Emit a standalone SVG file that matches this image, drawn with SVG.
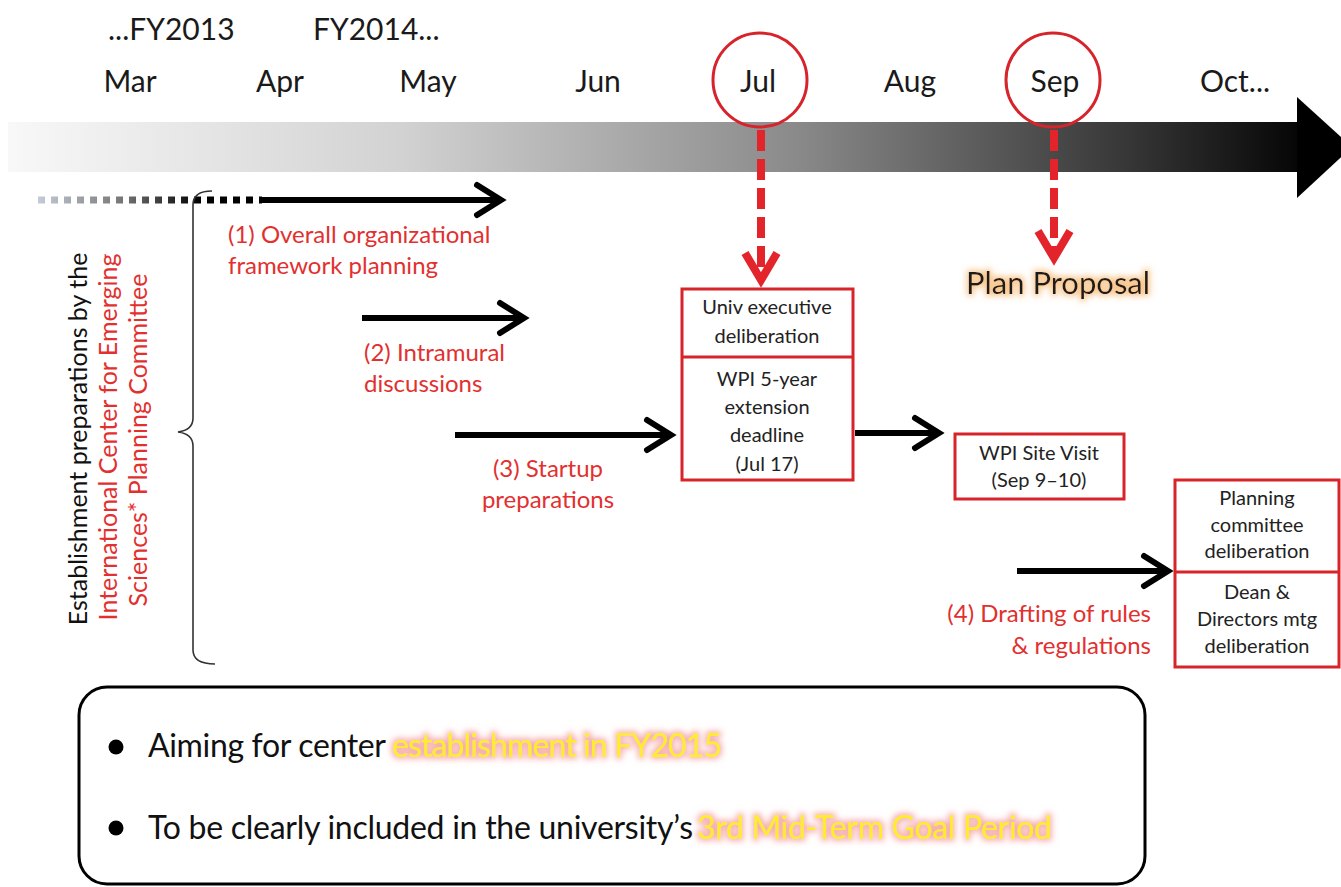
<svg xmlns="http://www.w3.org/2000/svg" width="1341" height="887" viewBox="0 0 1341 887">
<defs>
<linearGradient id="tl" x1="8" y1="0" x2="1320" y2="0" gradientUnits="userSpaceOnUse">
<stop offset="0" stop-color="#f8f8f8"/>
<stop offset="0.3" stop-color="#d2d2d2"/>
<stop offset="0.6" stop-color="#8a8a8a"/>
<stop offset="0.85" stop-color="#383838"/>
<stop offset="1" stop-color="#000"/>
</linearGradient>
<linearGradient id="dotg" x1="38" y1="0" x2="200" y2="0" gradientUnits="userSpaceOnUse">
<stop offset="0" stop-color="#c4cad8"/>
<stop offset="0.5" stop-color="#7a7a7a"/>
<stop offset="1" stop-color="#000"/>
</linearGradient>
<filter id="glowO" x="-10%" y="-50%" width="120%" height="200%">
<feMorphology in="SourceAlpha" operator="dilate" radius="2" result="d"/>
<feGaussianBlur in="d" stdDeviation="3" result="b"/>
<feFlood flood-color="#f6b46a" flood-opacity="0.75"/>
<feComposite in2="b" operator="in" result="g"/>
<feMerge><feMergeNode in="g"/><feMergeNode in="SourceGraphic"/></feMerge>
</filter>
<filter id="glowP" x="-10%" y="-50%" width="120%" height="200%">
<feMorphology in="SourceAlpha" operator="dilate" radius="2" result="d"/>
<feGaussianBlur in="d" stdDeviation="3" result="b"/>
<feFlood flood-color="#f07878" flood-opacity="0.6"/>
<feComposite in2="b" operator="in" result="g"/>
<feMerge><feMergeNode in="g"/><feMergeNode in="SourceGraphic"/></feMerge>
</filter>
<marker id="chev" markerUnits="userSpaceOnUse" viewBox="0 0 40 40" markerWidth="40" markerHeight="40" refX="33" refY="20" orient="auto">
<path d="M8 5 L32 20 L8 35" fill="none" stroke="#000" stroke-width="6" stroke-linecap="round" stroke-linejoin="miter"/>
</marker>
</defs>
<style>
text{font-family:Lato,"Liberation Sans",sans-serif;}
.mon{font-size:30px;fill:#1a1a1a;text-anchor:middle;}
.fy{font-size:30px;fill:#1a1a1a;}
.lbl{font-size:24px;fill:#e2302f;}
.box{fill:#fff;stroke:#d7242b;stroke-width:3;}
.bt{font-size:20px;fill:#222;text-anchor:middle;}
.blk{stroke:#000;stroke-width:6;fill:none;}
.rd{stroke:#e3242b;stroke-width:8;fill:none;}
.vt{font-size:25px;text-anchor:middle;}
.bot{font-size:32px;fill:#111;}
.hl{font-size:32px;fill:#ffec2a;}
</style>

<g id="timeline">
<rect x="8" y="122" width="1291" height="50" fill="url(#tl)"/>
<polygon points="1297,97 1352,147 1297,198" fill="#000"/>
</g>

<g id="labels-top">
<text class="fy" x="108" y="40">...FY2013</text>
<text class="fy" x="313" y="40">FY2014...</text>
<text class="mon" x="130" y="92">Mar</text>
<text class="mon" x="280" y="92">Apr</text>
<text class="mon" x="428" y="92">May</text>
<text class="mon" x="598" y="92">Jun</text>
<text class="mon" x="758" y="92">Jul</text>
<text class="mon" x="910" y="92">Aug</text>
<text class="mon" x="1055" y="92">Sep</text>
<text class="mon" x="1235" y="92">Oct...</text>
</g>

<g id="milestone-jul">
<circle cx="760" cy="80" r="47" fill="none" stroke="#d7242b" stroke-width="3"/>
</g>
<g id="milestone-sep">
<circle cx="1053" cy="80" r="47" fill="none" stroke="#d7242b" stroke-width="3"/>
</g>

<g id="connectors">
<line x1="38" y1="200" x2="262" y2="200" stroke="url(#dotg)" stroke-width="7" stroke-dasharray="7 6"/>
<line class="blk" x1="262" y1="200" x2="502" y2="200" marker-end="url(#chev)"/>
<line class="blk" x1="362" y1="318" x2="525" y2="318" marker-end="url(#chev)"/>
<line class="blk" x1="455" y1="435" x2="672" y2="435" marker-end="url(#chev)"/>
<line class="blk" x1="855" y1="433" x2="940" y2="433" marker-end="url(#chev)"/>
<line class="blk" x1="1017" y1="571" x2="1169" y2="571" marker-end="url(#chev)"/>
<line class="rd" x1="761" y1="130" x2="761" y2="274" stroke-dasharray="21 8"/>
<polyline class="rd" points="745,253 761,280 777,253" stroke-linejoin="miter"/>
<line class="rd" x1="1054" y1="130" x2="1054" y2="252" stroke-dasharray="21 8"/>
<polyline class="rd" points="1038,231 1054,258 1070,231" stroke-linejoin="miter"/>
<path d="M212 191 Q193 191 193 205 L193 418 Q193 430 178 432 Q193 434 193 446 L193 650 Q193 664 215 664" fill="none" stroke="#333" stroke-width="1.6"/>
</g>

<g id="step-labels">
<text class="lbl" x="228" y="243">(1) Overall organizational</text>
<text class="lbl" x="228" y="274">framework planning</text>
<text class="lbl" x="364" y="361">(2) Intramural</text>
<text class="lbl" x="364" y="392">discussions</text>
<text class="lbl" x="548" y="477" text-anchor="middle">(3) Startup</text>
<text class="lbl" x="548" y="508" text-anchor="middle">preparations</text>
<text class="lbl" x="1151" y="622" text-anchor="end">(4) Drafting of rules</text>
<text class="lbl" x="1151" y="654" text-anchor="end">&amp; regulations</text>
</g>

<g id="side-label">
<text class="vt" transform="translate(87,439) rotate(-90)" fill="#111">Establishment preparations by the</text>
<text class="vt" transform="translate(117,437) rotate(-90)" fill="#e2302f">International Center for Emerging</text>
<text class="vt" transform="translate(147,440) rotate(-90)" fill="#e2302f">Sciences* Planning Committee</text>
</g>

<g id="box-jul">
<rect class="box" x="682" y="289" width="171" height="191"/>
<line x1="682" y1="357" x2="853" y2="357" stroke="#d7242b" stroke-width="3"/>
<text class="bt" x="767" y="314">Univ executive</text>
<text class="bt" x="767" y="343">deliberation</text>
<text class="bt" x="767" y="386">WPI 5-year</text>
<text class="bt" x="767" y="414">extension</text>
<text class="bt" x="767" y="442">deadline</text>
<text class="bt" x="767" y="471">(Jul 17)</text>
</g>

<g id="box-site-visit">
<rect class="box" x="955" y="434" width="169" height="65"/>
<text class="bt" x="1039" y="460">WPI Site Visit</text>
<text class="bt" x="1039" y="487">(Sep 9–10)</text>
</g>

<g id="box-deliberation">
<rect class="box" x="1175" y="480" width="164" height="187"/>
<line x1="1175" y1="572" x2="1339" y2="572" stroke="#d7242b" stroke-width="3"/>
<text class="bt" x="1257" y="505">Planning</text>
<text class="bt" x="1257" y="532">committee</text>
<text class="bt" x="1257" y="558">deliberation</text>
<text class="bt" x="1257" y="599">Dean &amp;</text>
<text class="bt" x="1257" y="626">Directors mtg</text>
<text class="bt" x="1257" y="653">deliberation</text>
</g>

<g id="plan-proposal">
<text x="1058" y="294" font-size="31" fill="#1a1a1a" text-anchor="middle" filter="url(#glowO)">Plan Proposal</text>
</g>

<g id="summary">
<rect x="79" y="687" width="1066" height="197" rx="28" fill="#fff" stroke="#000" stroke-width="3"/>
<circle cx="116" cy="747" r="7.5" fill="#000"/>
<circle cx="116" cy="828" r="7.5" fill="#000"/>
<text class="bot" x="148" y="757" textLength="238">Aiming for center</text>
<text class="hl" x="392" y="757" textLength="330" filter="url(#glowP)">establishment in FY2015</text>
<text class="bot" x="148" y="839" textLength="545">To be clearly included in the university’s</text>
<text class="hl" x="697" y="839" textLength="355" filter="url(#glowP)">3rd Mid-Term Goal Period</text>
</g>
</svg>
